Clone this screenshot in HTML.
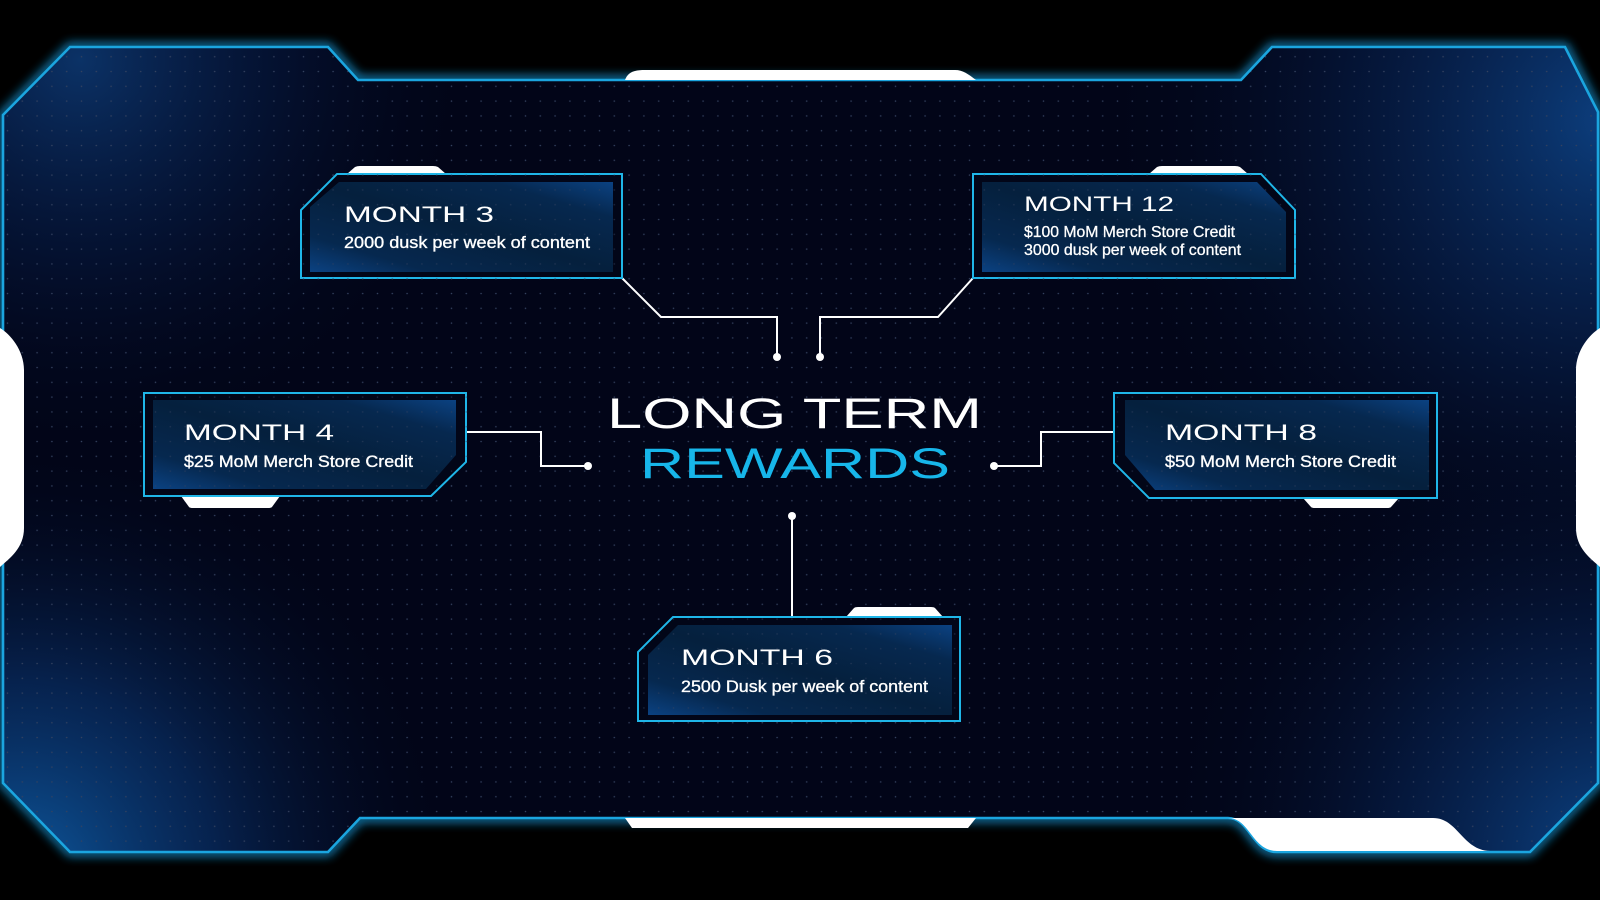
<!DOCTYPE html>
<html>
<head>
<meta charset="utf-8">
<style>
html,body{margin:0;padding:0;background:#000;}
svg{display:block;}
</style>
</head>
<body>
<svg width="1600" height="900" viewBox="0 0 1600 900" xmlns="http://www.w3.org/2000/svg">
<defs>
  <pattern id="dots" patternUnits="userSpaceOnUse" x="14.9" y="49.3" width="14.8" height="14.8">
    <circle cx="7.4" cy="7.4" r="0.8" fill="#34425f"/>
  </pattern>
  <radialGradient id="gTL" gradientUnits="userSpaceOnUse" cx="80" cy="60" r="400">
    <stop offset="0" stop-color="#0d3a74" stop-opacity="0.85"/>
    <stop offset="0.5" stop-color="#082659" stop-opacity="0.35"/>
    <stop offset="1" stop-color="#020518" stop-opacity="0"/>
  </radialGradient>
  <radialGradient id="gTR" gradientUnits="userSpaceOnUse" cx="1610" cy="120" r="520">
    <stop offset="0" stop-color="#0d4284" stop-opacity="0.95"/>
    <stop offset="0.5" stop-color="#082a60" stop-opacity="0.4"/>
    <stop offset="1" stop-color="#020518" stop-opacity="0"/>
  </radialGradient>
  <radialGradient id="gBL" gradientUnits="userSpaceOnUse" cx="20" cy="880" r="440">
    <stop offset="0" stop-color="#0e5aa0" stop-opacity="1"/>
    <stop offset="0.45" stop-color="#0a3a7a" stop-opacity="0.55"/>
    <stop offset="1" stop-color="#020518" stop-opacity="0"/>
  </radialGradient>
  <radialGradient id="gBR" gradientUnits="userSpaceOnUse" cx="1610" cy="860" r="460">
    <stop offset="0" stop-color="#0c4486" stop-opacity="1"/>
    <stop offset="0.5" stop-color="#082a60" stop-opacity="0.45"/>
    <stop offset="1" stop-color="#020518" stop-opacity="0"/>
  </radialGradient>
  <linearGradient id="box" x1="0" y1="1" x2="1" y2="0">
    <stop offset="0" stop-color="#0b4282"/>
    <stop offset="0.2" stop-color="#06284f"/>
    <stop offset="0.5" stop-color="#05203d"/>
    <stop offset="0.8" stop-color="#06284f"/>
    <stop offset="1" stop-color="#0b4282"/>
  </linearGradient>
  <clipPath id="panelClip">
    <path d="M3,115 L70,47 L328,47 L358,80 L1241,80 L1272,47 L1565,47 L1598,112 L1598,783 L1530,852 L1277,852 C1252,852 1250,818 1228,818 L360,818 L328,852 L70,852 L3,783 Z"/>
  </clipPath>
  <filter id="glow" x="-10%" y="-10%" width="120%" height="120%">
    <feGaussianBlur stdDeviation="5"/>
  </filter>
</defs>

<rect width="1600" height="900" fill="#000"/>

<path d="M3,115 L70,47 L328,47 L358,80 L1241,80 L1272,47 L1565,47 L1598,112 L1598,783 L1530,852 L1277,852 C1252,852 1250,818 1228,818 L360,818 L328,852 L70,852 L3,783 Z" fill="none" stroke="#1596d6" stroke-width="8" filter="url(#glow)" opacity="0.9"/>

<path d="M3,115 L70,47 L328,47 L358,80 L1241,80 L1272,47 L1565,47 L1598,112 L1598,783 L1530,852 L1277,852 C1252,852 1250,818 1228,818 L360,818 L328,852 L70,852 L3,783 Z" fill="#020518"/>
<g clip-path="url(#panelClip)">
  <rect width="1600" height="900" fill="url(#gTL)"/>
  <rect width="1600" height="900" fill="url(#gTR)"/>
  <rect width="1600" height="900" fill="url(#gBL)"/>
  <rect width="1600" height="900" fill="url(#gBR)"/>
  <rect width="1600" height="900" fill="url(#dots)"/>
</g>

<path d="M3,115 L70,47 L328,47 L358,80 L1241,80 L1272,47 L1565,47 L1598,112 L1598,783 L1530,852 L1277,852 C1252,852 1250,818 1228,818 L360,818 L328,852 L70,852 L3,783 Z" fill="none" stroke="#1ba5df" stroke-width="2.6"/>

<path d="M625,80 C628,72 634,70 645,70 L955,70 C963,70 968,74 976,80 Z" fill="#fff"/>
<path d="M625,818 L976,818 L968,828 L632,828 Z" fill="#fff"/>
<path d="M1228,818 L1433,818 C1458,818 1462,850 1490,851 L1277,851 C1252,851 1250,818 1228,818 Z" fill="#fff"/>
<path d="M0,328 C10,334 24,350 24,370 L24,528 C24,548 10,558 0,567 Z" fill="#fff"/>
<path d="M1600,328 C1590,334 1576,350 1576,370 L1576,528 C1576,548 1590,558 1600,567 Z" fill="#fff"/>

<g fill="none" stroke="#fff" stroke-width="2">
  <path d="M622,278 L661,317 L777,317 L777,357"/>
  <path d="M973,278 L938,317 L820,317 L820,357"/>
  <path d="M466,432 L541,432 L541,466 L588,466"/>
  <path d="M1114,432 L1041,432 L1041,466 L994,466"/>
  <path d="M792,516 L792,617"/>
</g>
<g fill="#fff">
  <circle cx="777" cy="357" r="4"/>
  <circle cx="820" cy="357" r="4"/>
  <circle cx="588" cy="466" r="4"/>
  <circle cx="994" cy="466" r="4"/>
  <circle cx="792" cy="516" r="4"/>
</g>

<g fill="#fff">
  <path d="M347,174 L355,167 Q357,166 360,166 L433,166 Q436,166 438,167 L446,174 Z"/>
  <path d="M1149,174 L1157,167 Q1159,166 1162,166 L1235,166 Q1238,166 1240,167 L1248,174 Z"/>
  <path d="M181,496 L280,496 L272,507 Q271,508 268,508 L193,508 Q190,508 189,507 Z"/>
  <path d="M1303,498 L1399,498 L1391,507 Q1390,508 1387,508 L1315,508 Q1312,508 1311,507 Z"/>
  <path d="M846,617 L854,608 Q855,607 858,607 L931,607 Q934,607 935,608 L943,617 Z"/>
</g>

<g stroke="#1fb6e8" stroke-width="2" fill="#020618">
  <path d="M337,174 L622,174 L622,278 L301,278 L301,210 Z"/>
  <path d="M973,174 L1261,174 L1295,210 L1295,278 L973,278 Z"/>
  <path d="M144,393 L466,393 L466,462 L431,496 L144,496 Z"/>
  <path d="M1114,393 L1437,393 L1437,498 L1149,498 L1114,463 Z"/>
  <path d="M673,617 L960,617 L960,721 L638,721 L638,652 Z"/>
</g>
<g fill="url(#box)">
  <path d="M339,182 L613,182 L613,272 L310,272 L310,207 Z"/>
  <path d="M982,182 L1257,182 L1286,212 L1286,272 L982,272 Z"/>
  <path d="M153,400 L456,400 L456,455 L426,489 L153,489 Z"/>
  <path d="M1125,400 L1429,400 L1429,490 L1155,490 L1125,455 Z"/>
  <path d="M678,625 L952,625 L952,715 L648,715 L648,655 Z"/>
</g>
<g opacity="0.6">
  <rect x="301" y="174" width="322" height="105" fill="url(#dots)"/>
  <rect x="973" y="174" width="323" height="105" fill="url(#dots)"/>
  <rect x="144" y="393" width="323" height="104" fill="url(#dots)"/>
  <rect x="1114" y="393" width="324" height="106" fill="url(#dots)"/>
  <rect x="638" y="617" width="323" height="105" fill="url(#dots)"/>
</g>

<g font-family="'Liberation Sans', sans-serif" fill="#fff">
  <text x="344" y="222" font-size="22" textLength="150" lengthAdjust="spacingAndGlyphs">MONTH 3</text>
  <text x="344" y="248" font-size="17" stroke="#fff" stroke-width="0.35" textLength="246" lengthAdjust="spacingAndGlyphs">2000 dusk per week of content</text>

  <text x="1024" y="211" font-size="21" textLength="150" lengthAdjust="spacingAndGlyphs">MONTH 12</text>
  <text x="1024" y="237" font-size="16" stroke="#fff" stroke-width="0.3" textLength="211" lengthAdjust="spacingAndGlyphs">$100 MoM Merch Store Credit</text>
  <text x="1024" y="255" font-size="16" stroke="#fff" stroke-width="0.3" textLength="217" lengthAdjust="spacingAndGlyphs">3000 dusk per week of content</text>

  <text x="184" y="440" font-size="22" textLength="150" lengthAdjust="spacingAndGlyphs">MONTH 4</text>
  <text x="184" y="467" font-size="17" stroke="#fff" stroke-width="0.35" textLength="229" lengthAdjust="spacingAndGlyphs">$25 MoM Merch Store Credit</text>

  <text x="1165" y="440" font-size="22" textLength="152" lengthAdjust="spacingAndGlyphs">MONTH 8</text>
  <text x="1165" y="467" font-size="17" stroke="#fff" stroke-width="0.35" textLength="231" lengthAdjust="spacingAndGlyphs">$50 MoM Merch Store Credit</text>

  <text x="681" y="665" font-size="22" textLength="152" lengthAdjust="spacingAndGlyphs">MONTH 6</text>
  <text x="681" y="692" font-size="17" stroke="#fff" stroke-width="0.35" textLength="247" lengthAdjust="spacingAndGlyphs">2500 Dusk per week of content</text>

  <text x="607" y="428" font-size="43" textLength="375" lengthAdjust="spacingAndGlyphs">LONG TERM</text>
  <text x="640" y="478" font-size="43" fill="#17b6ea" textLength="310" lengthAdjust="spacingAndGlyphs">REWARDS</text>
</g>
</svg>
</body>
</html>
